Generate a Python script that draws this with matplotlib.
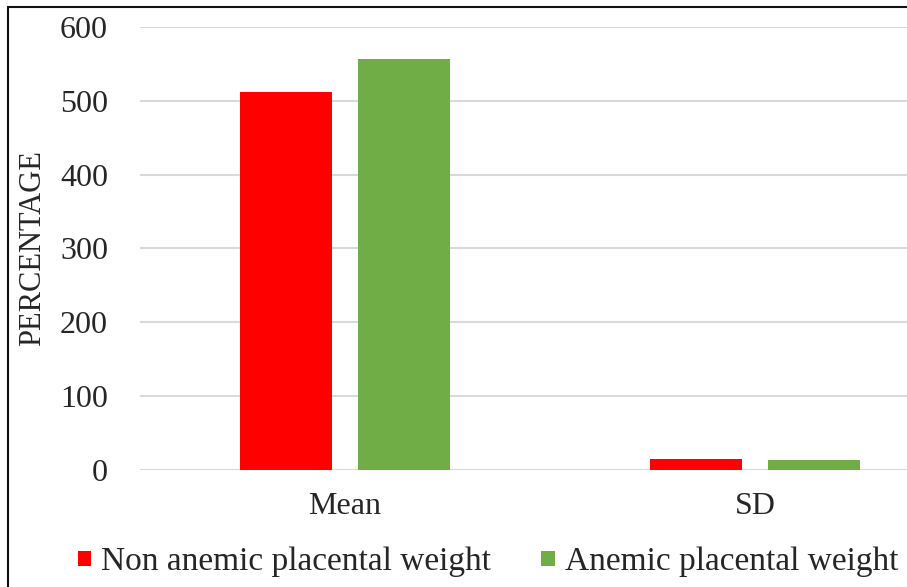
import numpy as np
import matplotlib.pyplot as plt
from matplotlib.patches import Rectangle

# placental weight summary
categories = ["Mean", "SD"]
non_anemic = [512, 15]
anemic = [556, 13]
series_labels = ["Non anemic placental weight", "Anemic placental weight"]
y_ticks = [0, 100, 200, 300, 400, 500, 600]

plt.rcParams['font.family'] = ['Liberation Serif', 'DejaVu Serif']

fig = plt.figure(figsize=(9.07, 5.87), dpi=100)
ax = fig.add_axes([140/907, 1 - 470/587, 820/907, 443/587])

x = np.arange(len(categories))
w = 0.224
off = 0.144
ax.bar(x - off, non_anemic, w, color="#ff0000", label=series_labels[0], zorder=3)
ax.bar(x + off, anemic, w, color="#70ad47", label=series_labels[1], zorder=3)

ax.set_xlim(-0.5, 1.5)
ax.set_ylim(0, 600)
ax.set_yticks(y_ticks)
ax.set_xticks(x)
ax.set_xticklabels(categories)
ax.yaxis.grid(True, color="#d9d9d9", linewidth=1.5, zorder=0)
ax.set_axisbelow(True)
for s in ax.spines.values():
    s.set_visible(False)
ax.tick_params(axis="both", length=0, labelsize=23, colors="#262626")
ax.tick_params(axis="y", pad=23)
ax.tick_params(axis="x", pad=16)
ax.set_ylabel("PERCENTAGE", fontsize=22, color="#262626")
ax.yaxis.set_label_coords(-93/820, 0.5)

fig.legend(loc="center", bbox_to_anchor=(488/907, 1 - 562/587), ncol=2,
           frameon=False, fontsize=24, handlelength=0.4, handleheight=0.3,
           handletextpad=0.3, columnspacing=1.5, labelcolor="#262626")

# outer frame line
fig.patches.append(Rectangle((8/907, -0.1), 1.2, 1.1 - 7/587, transform=fig.transFigure,
                             fill=False, edgecolor="#111111", linewidth=1.5))

fig.savefig("out.png", dpi=100)
